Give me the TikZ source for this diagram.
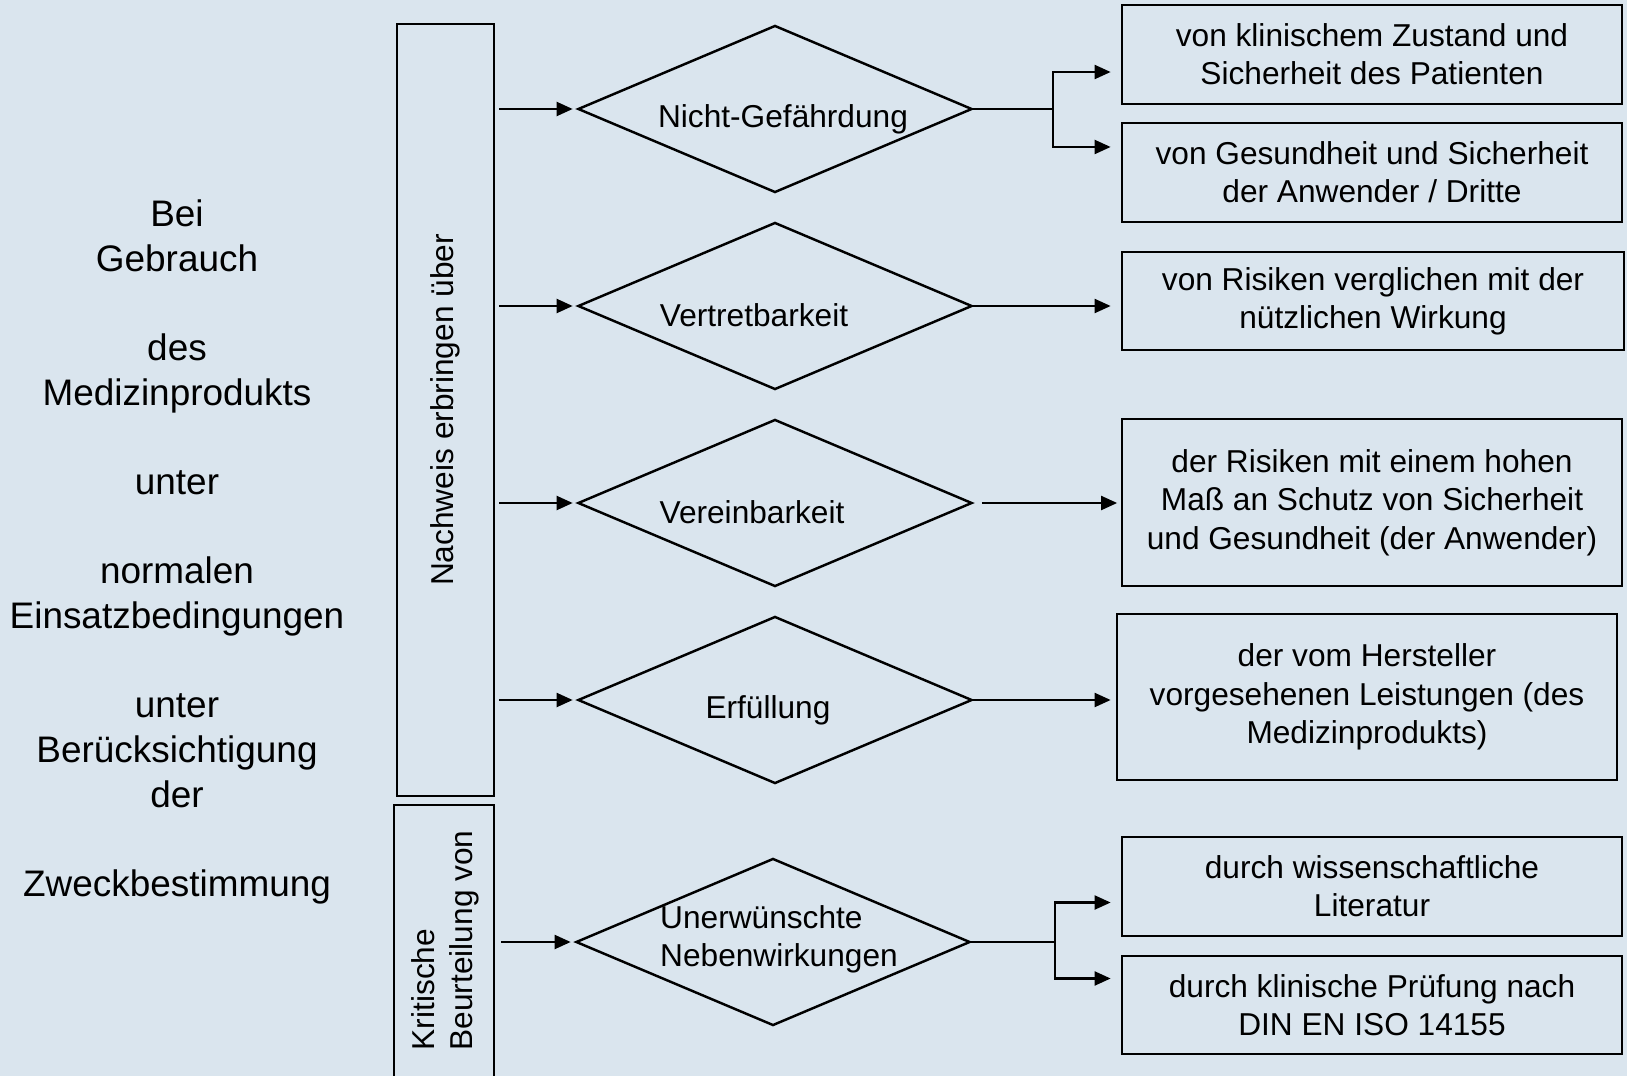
\documentclass[tikz,border=0pt]{standalone}
\usepackage{fontspec}
\setmainfont{Liberation Sans}
\usetikzlibrary{shapes.geometric,arrows.meta}

\definecolor{bgblue}{RGB}{218,229,238}

\begin{document}
\begin{tikzpicture}[x=0.01cm,y=-0.01cm,
    font=\fontsize{9}{10.9}\selectfont,
    box/.style={draw,line width=0.7pt,inner sep=0pt,align=center},
    dia/.style={draw,diamond,line width=0.7pt,minimum width=3.94cm,minimum height=1.67cm,inner sep=0pt},
    arr/.style={-{Triangle[length=1.6mm,width=1.4mm]},line width=0.6pt},
    ln/.style={line width=0.6pt}]
  \clip (0,0) rectangle (1627,1076);
  \fill[bgblue] (0,0) rectangle (1627,1076);

  % left column
  \node[align=center,font=\fontsize{10.5}{12.7}\selectfont] (intro) at (177,552)
    {Bei\\Gebrauch\\~\\des\\Medizinprodukts\\~\\unter\\~\\normalen\\Einsatzbedingungen\\~\\unter\\Berücksichtigung\\der\\~\\Zweckbestimmung};

  \node[box,minimum width=0.97cm,minimum height=7.72cm] (nach) at (445.5,410) {\rotatebox{90}{Nachweis erbringen über}};
  \node[box,minimum width=1.0cm,minimum height=2.9cm] (krit) at (444,950) {};
  \node[rotate=90,anchor=west,align=left,inner sep=0pt] (kritt) at (445,1051) {Kritische\\Beurteilung von};

  % diamonds
  \node[dia] (nicht) at (775,109) {};
  \node[dia] (vert) at (775,306) {};
  \node[dia] (vere) at (775,503) {};
  \node[dia] (erf) at (775,700) {};
  \node[dia] (unerw) at (773,942) {};
  \node (nicht-t) at (783,119) {Nicht-Gefährdung};
  \node (vert-t) at (754,315) {Vertretbarkeit};
  \node (vere-t) at (752,512) {Vereinbarkeit};
  \node (erf-t) at (768,710) {Erfüllung};
  \node[align=left] (unerw-t) at (779,939) {Unerwünschte\\Nebenwirkungen};

  % right column
  \node[box,minimum width=5cm,minimum height=0.99cm] (b1) at (1372,54.5) {von klinischem Zustand und\\Sicherheit des Patienten};
  \node[box,minimum width=5cm,minimum height=0.99cm] (b2) at (1372,172.5) {von Gesundheit und Sicherheit\\der Anwender / Dritte};
  \node[box,minimum width=5.02cm,minimum height=0.98cm] (b3) at (1373,301) {von Risiken verglichen mit der\\nützlichen Wirkung};
  \node[box,minimum width=5cm,minimum height=1.67cm] (b4) at (1372,502.5) {der Risiken mit einem hohen\\Maß an Schutz von Sicherheit\\und Gesundheit (der Anwender)};
  \node[box,minimum width=5cm,minimum height=1.66cm] (b5) at (1367,697) {der vom Hersteller\\vorgesehenen Leistungen (des\\Medizinprodukts)};
  \node[box,minimum width=5cm,minimum height=0.99cm] (b6) at (1372,886.5) {durch wissenschaftliche\\Literatur};
  \node[box,minimum width=5cm,minimum height=0.98cm] (b7) at (1372,1005) {durch klinische Prüfung nach\\DIN EN ISO 14155};

  % connectors
  \draw[arr,shorten <=0.04cm,shorten >=0.04cm] (nach.east |- nicht.west) -- (nicht.west);
  \draw[arr,shorten <=0.04cm,shorten >=0.04cm] (nach.east |- vert.west) -- (vert.west);
  \draw[arr,shorten <=0.04cm,shorten >=0.04cm] (nach.east |- vere.west) -- (vere.west);
  \draw[arr,shorten <=0.04cm,shorten >=0.04cm] (nach.east |- erf.west) -- (erf.west);
  \draw[arr,shorten <=0.06cm,shorten >=0.04cm] (krit.east |- unerw.west) -- (unerw.west);

  \coordinate (j1) at ([xshift=0.8cm]nicht.east);
  \draw[ln] (nicht.east) -- (j1);
  \draw[arr,shorten >=0.1cm] (j1) |- ([yshift=-0.175cm]b1.west);
  \draw[arr,shorten >=0.1cm] (j1) |- ([yshift=0.255cm]b2.west);
  \draw[arr,shorten >=0.1cm] (vert.east) -- (vert.east -| b3.west);
  \draw[arr,shorten <=0.085cm,shorten >=0.035cm] (vere.east) -- (vere.east -| b4.west);
  \draw[arr,shorten >=0.05cm] (erf.east) -- (erf.east -| b5.west);
  \coordinate (j2) at ([xshift=0.84cm]unerw.east);
  \draw[ln] (unerw.east) -- (j2);
  \draw[arr,shorten >=0.1cm] (j2) |- ([yshift=-0.16cm]b6.west);
  \draw[arr,shorten >=0.1cm] (j2) |- ([yshift=0.265cm]b7.west);
\end{tikzpicture}
\end{document}
